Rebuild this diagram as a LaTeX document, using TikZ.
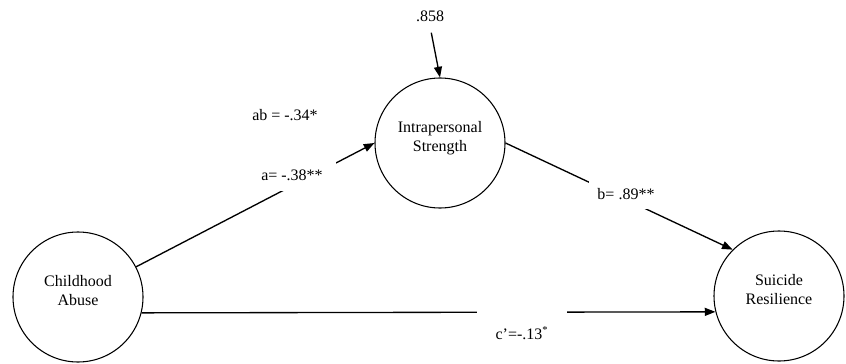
\documentclass[tikz,border=0pt]{standalone}
\usepackage{fontspec}
\setmainfont{Liberation Serif}
\usetikzlibrary{arrows.meta,positioning}

\begin{document}
\begin{tikzpicture}[x=0.75pt,y=-0.75pt,
  every node/.style={font=\fontsize{12}{14}\selectfont},
  var/.style={draw,circle,line width=0.8pt,minimum size=97.5pt,inner sep=0pt,align=center,text depth=10pt},
  arr/.style={line width=1pt,-{Triangle[length=8pt,width=6pt]}},
  lab/.style={fill=white,inner sep=0pt},
]
  \useasboundingbox (0,0) rectangle (846,364);

  \node[var] (abuse) at (78,297) {Childhood\\Abuse};
  \node[var] (intra) at (440,143) {Intrapersonal\\Strength};
  \node[var] (resil) at (779,296) {Suicide\\Resilience};
  \node (err) at (430,16) {.858};

  \draw[arr,shorten <=5pt] (err.south) -- (intra.north);
  \draw[arr] (abuse) -- (intra.west);
  \draw[arr] (intra.east) -- (resil.north west);
  \draw[arr] (abuse.-14) -- (resil.194);

  \node (ab) at (285,115) {ab = -.34*};
  \node[lab,minimum width=66pt,minimum height=24pt] (a) at (292,175) {a= -.38**};
  \node[lab,minimum width=55pt,minimum height=22pt] (b) at (626,194) {b= .89**};
  \node[lab,minimum width=67pt,minimum height=34pt] (c) at (522,333) {c’=-.13\textsuperscript{*}};
\end{tikzpicture}
\end{document}
